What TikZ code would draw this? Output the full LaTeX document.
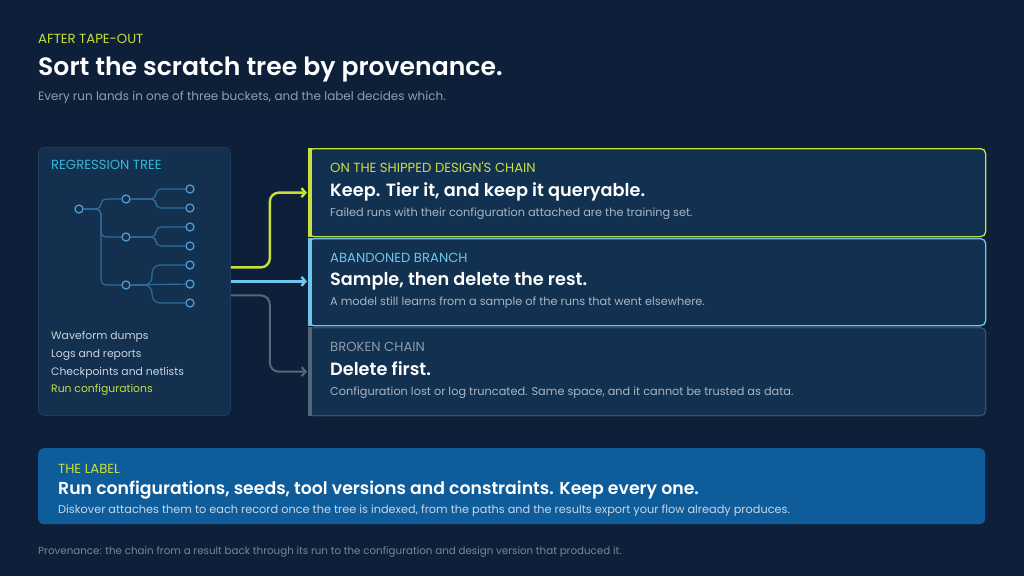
\documentclass[tikz,border=0pt]{standalone}
\usepackage{fontspec}
\setmainfont{Poppins}[BoldFont={Poppins SemiBold}]
\usetikzlibrary{arrows.meta}
\definecolor{bgnavy}{HTML}{0E2039}
\definecolor{panelfill}{HTML}{13304F}
\definecolor{panelline}{HTML}{1D3D60}
\definecolor{cardfill}{HTML}{12304F}
\definecolor{keepgreen}{HTML}{C8E03B}
\definecolor{sampleblue}{HTML}{6EC6EE}
\definecolor{dropgrey}{HTML}{56677A}
\definecolor{dropline}{HTML}{3C5066}
\definecolor{dotblue}{HTML}{4A9DD6}
\definecolor{branchblue}{HTML}{2F6C9C}
\definecolor{bannerblue}{HTML}{0F5C9B}
\definecolor{subgrey}{HTML}{8E9FB5}
\definecolor{treecyan}{HTML}{36B5D6}
\definecolor{listgrey}{HTML}{C9D4E1}
\definecolor{blurbgrey}{HTML}{A8B5C5}
\definecolor{droplabel}{HTML}{8C9AAB}
\definecolor{bannertext}{HTML}{C5D7EA}
\definecolor{footgrey}{HTML}{76869B}

\begin{document}
\begin{tikzpicture}[x=1pt, y=-1pt,
    txt/.style={anchor=base west, inner sep=0pt},
    kicker/.style={txt, font=\fontsize{13.2}{15}\selectfont},
    heading/.style={txt, text=white, font=\bfseries\fontsize{17.7}{21}\selectfont},
    blurb/.style={txt, text=blurbgrey, font=\fontsize{11.3}{13}\selectfont},
    dot/.style={circle, draw=dotblue, line width=1.3pt, fill=panelfill, minimum size=8pt, inner sep=0pt},
    branch/.style={draw=branchblue, line width=1.2pt, rounded corners=5pt},
    card/.style={rounded corners=5pt, fill=cardfill, line width=1.3pt, minimum width=677pt, minimum height=88pt, anchor=north west, inner sep=0pt},
    flow/.style={line width=2.4pt, rounded corners=9pt, shorten >=1pt, -{Straight Barb[length=4pt, width=9pt]}}]
    \fill[bgnavy] (0,0) rectangle (1024,576);
    \useasboundingbox (0,0) rectangle (1024,576);
    % header
    \node[kicker, text=keepgreen] (kick) at (38,43) {AFTER TAPE-OUT};
    \node[txt, text=white, font=\bfseries\fontsize{25.1}{29}\selectfont] (title) at (38,75) {Sort the scratch tree by provenance.};
    \node[txt, text=subgrey, font=\fontsize{12}{14}\selectfont] (sub) at (38,100) {Every run lands in one of three buckets, and the label decides which.};
    % regression tree panel
    \node[draw=panelline, fill=panelfill, rounded corners=6pt, line width=0.8pt, minimum width=192pt, minimum height=268pt, anchor=north west, inner sep=0pt] (panel) at (38,147) {};
    \node[kicker, text=treecyan] (treehead) at (51,169) {REGRESSION TREE};
    \node[dot] (root) at (79,209) {};
    \node[dot] (m1) at (126,199) {};
    \node[dot] (m2) at (126,237) {};
    \node[dot] (m3) at (126,285) {};
    \foreach \n/\y in {1/189,2/208,3/227,4/246,5/265,6/284,7/303}
        \node[dot] (l\n) at (190,\y) {};
    \draw[branch] (root) -- (101,209) |- (m1);
    \draw[branch] (root) -- (101,209) |- (m2);
    \draw[branch] (root) -- (101,209) |- (m3);
    \draw[branch] (m1) -- (156,199) |- (l1);
    \draw[branch] (m1) -- (156,199) |- (l2);
    \draw[branch] (m2) -- (156,237) |- (l3);
    \draw[branch] (m2) -- (156,237) |- (l4);
    \draw[branch, rounded corners=8pt] (m3) -- (152,285) |- (l5);
    \draw[branch] (m3) -- (l6);
    \draw[branch, rounded corners=8pt] (m3) -- (152,285) |- (l7);
    \foreach \t/\y in {Waveform dumps/339.5, Logs and reports/357.3, Checkpoints and netlists/375}
        \node[txt, text=listgrey, font=\fontsize{10.8}{12}\selectfont] at (51,\y) {\t};
    \node[txt, text=keepgreen, font=\fontsize{10.8}{12}\selectfont] (runcfg) at (51,392.8) {Run configurations};
    % buckets
    \node[card, draw=keepgreen] (keep) at (308,148) {};
    \node[card, draw=sampleblue, minimum height=87pt] (sample) at (308,238) {};
    \node[card, draw=dropline] (drop) at (308,327) {};
    \fill[keepgreen] (keep.north west) rectangle ([xshift=4pt]keep.south west);
    \fill[sampleblue] (sample.north west) rectangle ([xshift=4pt]sample.south west);
    \fill[dropgrey] (drop.north west) rectangle ([xshift=4pt]drop.south west);
    \node[kicker, text=keepgreen] (keeplab) at (330,172) {ON THE SHIPPED DESIGN\textquotesingle S CHAIN};
    \node[heading] (keephead) at (330,196) {Keep. Tier it, and keep it queryable.};
    \node[blurb] (keeptxt) at (330,216) {Failed runs with their configuration attached are the training set.};
    \node[kicker, text=sampleblue] (samplelab) at (330,262) {ABANDONED BRANCH};
    \node[heading] (samplehead) at (330,285.5) {Sample, then delete the rest.};
    \node[blurb] (sampletxt) at (330,305.7) {A model still learns from a sample of the runs that went elsewhere.};
    \node[kicker, text=droplabel] (droplab) at (330,351.7) {BROKEN CHAIN};
    \node[heading] (drophead) at (330,375) {Delete first.};
    \node[blurb] (droptxt) at (330,395) {Configuration lost or log truncated. Same space, and it cannot be trusted as data.};
    % connectors
    \draw[flow, keepgreen] ([yshift=14pt]panel.east) -- ++(39,0) |- (keep.west);
    \draw[flow, sampleblue] (panel.east) -- (panel.east -| sample.west);
    \draw[flow, dropgrey, line width=2pt] ([yshift=-14pt]panel.east) -- ++(39,0) |- (drop.west);
    % the label
    \node[fill=bannerblue, rounded corners=6pt, minimum width=947pt, minimum height=76pt, anchor=north west, inner sep=0pt] (banner) at (38,448) {};
    \node[kicker, text=keepgreen] (bannerlab) at (58,473) {THE LABEL};
    \node[txt, text=white, font=\bfseries\fontsize{17.3}{21}\selectfont] (bannerhead) at (58,494) {Run configurations, seeds, tool versions and constraints. Keep every one.};
    \node[txt, text=bannertext, font=\fontsize{11.3}{14}\selectfont] (bannertxt) at (58,513) {Diskover attaches them to each record once the tree is indexed, from the paths and the results export your flow already produces.};
    \node[txt, text=footgrey, font=\fontsize{10.3}{12}\selectfont] (foot) at (38,554) {Provenance: the chain from a result back through its run to the configuration and design version that produced it.};
\end{tikzpicture}
\end{document}
